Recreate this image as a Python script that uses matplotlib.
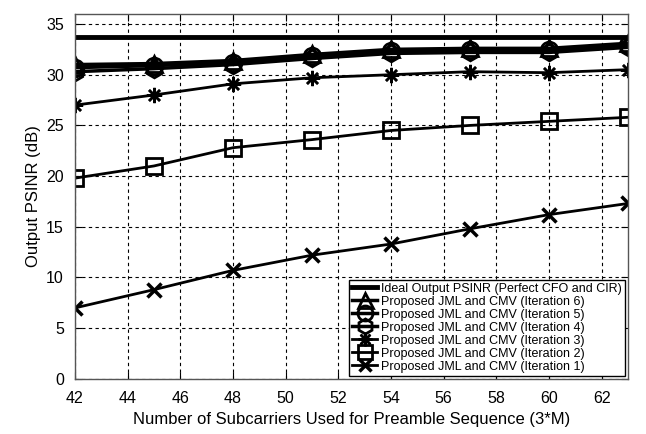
import matplotlib
matplotlib.use("Agg")
import matplotlib.pyplot as plt

plt.rcParams['font.family'] = ['Liberation Sans', 'DejaVu Sans']

x = [42, 45, 48, 51, 54, 57, 60, 63]
ideal = [33.7] * 8
iter6 = [31.0, 31.1, 31.4, 32.0, 32.5, 32.6, 32.6, 33.1]
iter5 = [30.7, 30.9, 31.2, 31.8, 32.3, 32.4, 32.4, 32.9]
iter4 = [30.3, 30.6, 31.0, 31.6, 32.1, 32.2, 32.2, 32.7]
iter3 = [27.0, 28.0, 29.1, 29.7, 30.0, 30.3, 30.2, 30.5]
iter2 = [19.8, 21.0, 22.8, 23.6, 24.5, 25.0, 25.4, 25.8]
iter1 = [7.0, 8.8, 10.7, 12.2, 13.3, 14.8, 16.2, 17.3]

labels = [
    "Ideal Output PSINR (Perfect CFO and CIR)",
    "Proposed JML and CMV (Iteration 6)",
    "Proposed JML and CMV (Iteration 5)",
    "Proposed JML and CMV (Iteration 4)",
    "Proposed JML and CMV (Iteration 3)",
    "Proposed JML and CMV (Iteration 2)",
    "Proposed JML and CMV (Iteration 1)",
]
xticks = list(range(42, 63, 2))
yticks = list(range(0, 36, 5))

fig = plt.figure(figsize=(6.46, 4.34), dpi=100)
ax = fig.add_axes([0.116, 0.127, 0.856, 0.841])

ax.plot(x, ideal, color='black', lw=3.5, label=labels[0])
ax.plot(x, iter6, color='black', lw=2.5, marker='^', ms=12, mfc='none', mew=2, label=labels[1])
ax.plot(x, iter5, color='black', lw=2.5, marker='o', ms=12, mfc='none', mew=2, label=labels[2])
ax.plot(x, iter4, color='black', lw=2.5, marker='h', ms=12, mfc='none', mew=2, label=labels[3])
ax.plot(x, iter3, color='black', lw=2, marker=(8, 2, 0), ms=11, mfc='none', mew=1.8, label=labels[4])
ax.plot(x, iter2, color='black', lw=2, marker='s', ms=11, mfc='none', mew=2, label=labels[5])
ax.plot(x, iter1, color='black', lw=2, marker='x', ms=10, mfc='none', mew=2.5, label=labels[6])

ax.set_xlim(42, 63)
ax.set_ylim(0, 36)
ax.set_xticks(xticks)
ax.set_yticks(yticks)
ax.tick_params(direction='in', top=True, right=True, labelsize=11.5, length=5)
ax.tick_params(axis='x', pad=9)
ax.tick_params(axis='y', pad=8)
ax.grid(True, color='black', linestyle=(0, (3, 3)), lw=0.8)
for s in ax.spines.values():
    s.set_color('#555555')
    s.set_linewidth(1.0)

ax.set_xlabel("Number of Subcarriers Used for Preamble Sequence (3*M)", fontsize=12, labelpad=4)
ax.set_ylabel("Output PSINR (dB)", fontsize=12, labelpad=4)

leg = ax.legend(loc='lower right', fontsize=9, frameon=True, fancybox=False,
                edgecolor='black', framealpha=1, borderpad=0.25, labelspacing=0.08,
                handlelength=2.0, handletextpad=0.3, borderaxespad=0.25, markerscale=0.9)
leg.get_frame().set_linewidth(1.0)

fig.savefig("out.png", dpi=100)
